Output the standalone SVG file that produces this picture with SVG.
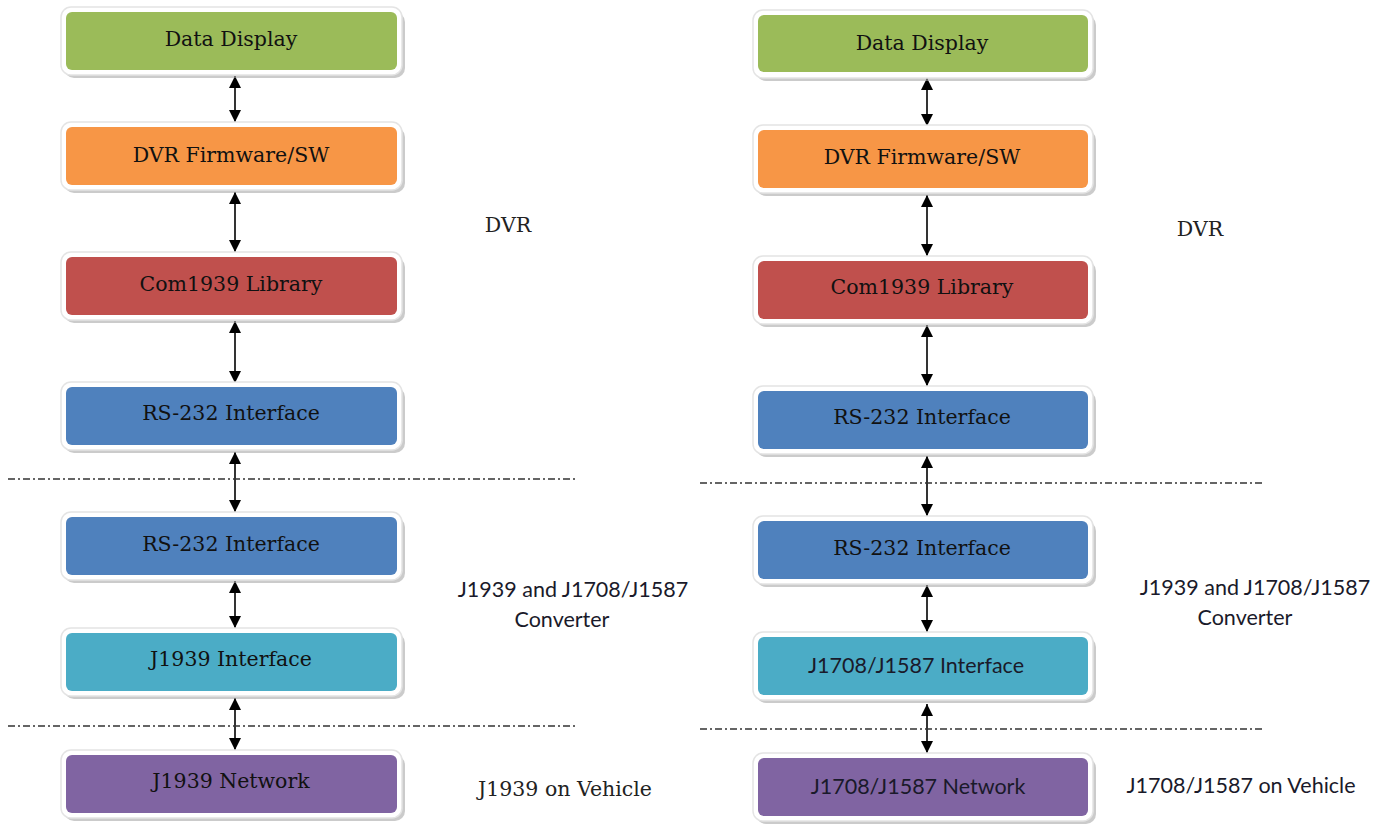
<svg xmlns="http://www.w3.org/2000/svg" width="1384" height="825" viewBox="0 0 1384 825">
<style>
.sh{fill:#a8a8a8;opacity:0.6}
.rim{fill:#ffffff;stroke:#e4e4e4;stroke-width:1.5}
.bt{font-family:"DejaVu Serif","Liberation Serif",serif;font-size:20.5px;fill:#111;text-anchor:middle}
.lt{font-family:Lato,"Liberation Sans",sans-serif;font-size:21.5px;fill:#1a1a2a;text-anchor:middle}
.st{font-family:"DejaVu Serif","Liberation Serif",serif;font-size:20.5px;fill:#222;text-anchor:middle}
.ar{stroke:#000;stroke-width:1.6;fill:none;marker-start:url(#ah);marker-end:url(#ah)}
.dl{stroke:#333;stroke-width:1.3;stroke-dasharray:7 3 2 3;fill:none}
.g{fill:#9BBB59}.o{fill:#F79646}.r{fill:#C0504D}.b{fill:#4F81BD}.t{fill:#4BACC6}.p{fill:#8064A2}
</style>
<defs>
<marker id="ah" viewBox="0 0 12 12" refX="12" refY="6" markerWidth="12" markerHeight="12" orient="auto-start-reverse" markerUnits="userSpaceOnUse">
<path d="M0,0 L12,6 L0,12 Z" fill="#000"/>
</marker>
</defs>
<rect width="1384" height="825" fill="#fff"/>
<g id="connectors">
<line class="ar" x1="235" y1="76" x2="235" y2="122"/>
<line class="ar" x1="235" y1="192" x2="235" y2="252"/>
<line class="ar" x1="235" y1="321" x2="235" y2="383"/>
<line class="ar" x1="235" y1="452" x2="235" y2="512"/>
<line class="ar" x1="235" y1="581" x2="235" y2="628"/>
<line class="ar" x1="235" y1="698" x2="235" y2="750"/>
<line class="ar" x1="927" y1="78" x2="927" y2="126"/>
<line class="ar" x1="927" y1="195" x2="927" y2="256"/>
<line class="ar" x1="927" y1="325" x2="927" y2="386"/>
<line class="ar" x1="927" y1="456" x2="927" y2="516"/>
<line class="ar" x1="927" y1="585" x2="927" y2="632"/>
<line class="ar" x1="927" y1="704" x2="927" y2="753"/>
</g>
<g id="separators">
<line class="dl" x1="8" y1="479" x2="575" y2="479"/>
<line class="dl" x1="8" y1="726" x2="575" y2="726"/>
<line class="dl" x1="700" y1="483" x2="1265" y2="483"/>
<line class="dl" x1="700" y1="729" x2="1265" y2="729"/>
</g>
<g id="L1"><rect class="sh" x="64" y="12" width="341" height="66" rx="10"/><rect class="rim" x="61" y="7" width="341" height="68" rx="10"/><rect class="g" x="66" y="12" width="331" height="58" rx="6"/><text class="bt" x="231" y="46">Data Display</text></g>
<g id="L2"><rect class="sh" x="64" y="127" width="341" height="66" rx="10"/><rect class="rim" x="61" y="122" width="341" height="68" rx="10"/><rect class="o" x="66" y="127" width="331" height="58" rx="6"/><text class="bt" x="231" y="162">DVR Firmware/SW</text></g>
<g id="L3"><rect class="sh" x="64" y="257" width="341" height="66" rx="10"/><rect class="rim" x="61" y="252" width="341" height="68" rx="10"/><rect class="r" x="66" y="257" width="331" height="58" rx="6"/><text class="bt" x="231" y="291">Com1939 Library</text></g>
<g id="L4"><rect class="sh" x="64" y="387" width="341" height="66" rx="10"/><rect class="rim" x="61" y="382" width="341" height="68" rx="10"/><rect class="b" x="66" y="387" width="331" height="58" rx="6"/><text class="bt" x="231" y="420">RS-232 Interface</text></g>
<g id="L5"><rect class="sh" x="64" y="517" width="341" height="66" rx="10"/><rect class="rim" x="61" y="512" width="341" height="68" rx="10"/><rect class="b" x="66" y="517" width="331" height="58" rx="6"/><text class="bt" x="231" y="551">RS-232 Interface</text></g>
<g id="L6"><rect class="sh" x="64" y="633" width="341" height="66" rx="10"/><rect class="rim" x="61" y="628" width="341" height="68" rx="10"/><rect class="t" x="66" y="633" width="331" height="58" rx="6"/><text class="bt" x="231" y="666">J1939 Interface</text></g>
<g id="L7"><rect class="sh" x="64" y="755" width="341" height="66" rx="10"/><rect class="rim" x="61" y="750" width="341" height="68" rx="10"/><rect class="p" x="66" y="755" width="331" height="58" rx="6"/><text class="bt" x="231" y="788">J1939 Network</text></g>
<g id="R1"><rect class="sh" x="756" y="15" width="340" height="66" rx="10"/><rect class="rim" x="753" y="10" width="340" height="68" rx="10"/><rect class="g" x="758" y="15" width="330" height="57" rx="6"/><text class="bt" x="922" y="50">Data Display</text></g>
<g id="R2"><rect class="sh" x="756" y="130" width="340" height="66" rx="10"/><rect class="rim" x="753" y="125" width="340" height="68" rx="10"/><rect class="o" x="758" y="130" width="330" height="58" rx="6"/><text class="bt" x="922" y="164">DVR Firmware/SW</text></g>
<g id="R3"><rect class="sh" x="756" y="261" width="340" height="66" rx="10"/><rect class="rim" x="753" y="256" width="340" height="68" rx="10"/><rect class="r" x="758" y="261" width="330" height="58" rx="6"/><text class="bt" x="922" y="294">Com1939 Library</text></g>
<g id="R4"><rect class="sh" x="756" y="391" width="340" height="66" rx="10"/><rect class="rim" x="753" y="386" width="340" height="68" rx="10"/><rect class="b" x="758" y="391" width="330" height="58" rx="6"/><text class="bt" x="922" y="424">RS-232 Interface</text></g>
<g id="R5"><rect class="sh" x="756" y="521" width="340" height="66" rx="10"/><rect class="rim" x="753" y="516" width="340" height="68" rx="10"/><rect class="b" x="758" y="521" width="330" height="58" rx="6"/><text class="bt" x="922" y="555">RS-232 Interface</text></g>
<g id="R6"><rect class="sh" x="756" y="637" width="340" height="66" rx="10"/><rect class="rim" x="753" y="632" width="340" height="68" rx="10"/><rect class="t" x="758" y="637" width="330" height="58" rx="6"/><text class="lt" x="916" y="673">J1708/J1587 Interface</text></g>
<g id="R7"><rect class="sh" x="756" y="758" width="340" height="66" rx="10"/><rect class="rim" x="753" y="753" width="340" height="68" rx="10"/><rect class="p" x="758" y="758" width="330" height="58" rx="6"/><text class="lt" x="918" y="794">J1708/J1587 Network</text></g>
<g id="labels">
<text class="st" x="508" y="232">DVR</text>
<text class="st" x="1200" y="236">DVR</text>
<text class="lt" x="573" y="597">J1939 and J1708/J1587</text>
<text class="lt" x="562" y="627">Converter</text>
<text class="lt" x="1255" y="595">J1939 and J1708/J1587</text>
<text class="lt" x="1245" y="625">Converter</text>
<text class="st" x="565" y="796">J1939 on Vehicle</text>
<text class="lt" x="1241" y="793">J1708/J1587 on Vehicle</text>
</g>
</svg>
